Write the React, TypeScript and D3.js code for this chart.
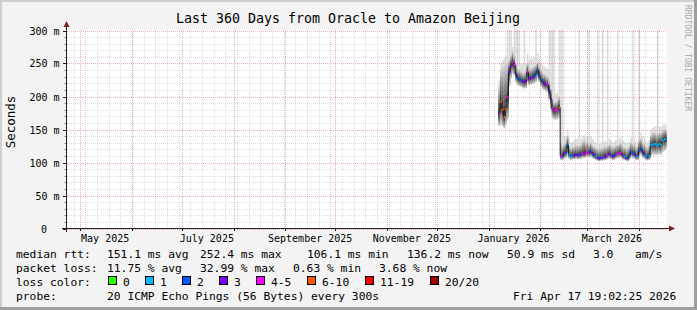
import React from 'react';
import * as d3 from 'd3';

const W = 697;
const H = 310;
const titleText = 'Last 360 Days from Oracle to Amazon Beijing';
const yAxisTitle = 'Seconds';
const watermarkText = 'RRDTOOL / TOBI OETIKER';
const startTime = new Date(Date.UTC(2025, 3, 22, 19, 2, 25));
const endTime = new Date(Date.UTC(2026, 3, 17, 19, 2, 25));
const yTickValues = [0, 50, 100, 150, 200, 250, 300];
const yTickLabels = ['0', '50 m', '100 m', '150 m', '200 m', '250 m', '300 m'];
const xLabelMonths = ['2025-05-01', '2025-07-01', '2025-09-01', '2025-11-01', '2026-01-01', '2026-03-01'];
const xLabelTexts = ['May 2025', 'July 2025', 'September 2025', 'November 2025', 'January 2026', 'March 2026'];

// daily data, first day 2026-01-07
const firstDay = '2026-01-07';
const median = [
  174, 192, 180, 169, 181, 199, 237, 245, 252, 248, 234, 228, 226, 225, 223, 222, 223, 237, 227, 228,
  229, 231, 234, 240, 232, 226, 222, 220, 218, 218, 209, 196, 182, 179, 179, 180, 183, 110, 109, 114,
  115, 126, 112, 109, 111, 110, 112, 111, 111, 112, 113, 113, 114, 116, 115, 117, 113, 111, 109, 107,
  106, 107, 107, 108, 109, 111, 113, 111, 109, 110, 112, 113, 114, 115, 111, 109, 107, 106, 110, 116,
  114, 113, 110, 109, 118, 121, 116, 113, 110, 108, 110, 126, 127, 128, 126, 126, 128, 127, 133, 135,
  136,
];
const lossCount = [
  5, 7, 6, 6, 6, 5, 3, 3, 4, 4, 3, 2, 2, 2, 3, 3, 3, 4, 3, 3,
  3, 2, 2, 2, 2, 2, 2, 3, 3, 4, 3, 3, 4, 4, 4, 4, 6, 4, 2, 3,
  2, 2, 1, 1, 2, 3, 3, 3, 2, 3, 4, 3, 4, 4, 3, 2, 3, 2, 1, 3,
  3, 2, 3, 2, 3, 4, 3, 2, 3, 3, 2, 4, 4, 4, 3, 1, 2, 3, 2, 2,
  2, 3, 2, 1, 2, 2, 3, 2, 1, 2, 1, 1, 1, 1, 1, 1, 1, 1, 1, 1,
  1,
];
const smokeLo = [
  155, 158, 155, 152, 158, 165, 215, 228, 235, 232, 222, 218, 216, 215, 213, 212, 213, 222, 217, 218,
  219, 220, 222, 228, 222, 216, 212, 210, 208, 206, 195, 180, 168, 165, 165, 166, 168, 104, 104, 106,
  107, 110, 106, 104, 105, 105, 106, 105, 105, 106, 107, 107, 108, 109, 108, 109, 107, 105, 104, 103,
  102, 103, 103, 104, 104, 105, 106, 105, 104, 104, 106, 107, 107, 108, 105, 104, 103, 102, 104, 108,
  107, 106, 104, 104, 110, 112, 108, 106, 104, 103, 104, 110, 112, 112, 112, 112, 113, 112, 116, 118,
  120,
];
const smokeHi = [
  215, 240, 244, 245, 248, 250, 255, 262, 268, 262, 250, 242, 240, 238, 236, 236, 238, 250, 242, 242,
  244, 246, 248, 252, 246, 240, 236, 234, 232, 230, 224, 212, 196, 192, 192, 194, 200, 130, 124, 128,
  130, 140, 125, 122, 124, 124, 126, 125, 126, 127, 132, 134, 130, 132, 128, 130, 126, 124, 122, 121,
  120, 121, 122, 124, 124, 125, 127, 126, 123, 124, 126, 127, 128, 129, 125, 123, 122, 121, 124, 130,
  128, 127, 124, 124, 134, 136, 130, 128, 124, 122, 126, 142, 144, 146, 144, 143, 146, 145, 148, 150,
  150,
];
const pingMax = [
  225, 250, 255, 258, 262, 400, 400, 400, 275, 400, 400, 400, 400, 250, 250, 400, 250, 265, 255, 258,
  258, 260, 400, 265, 258, 252, 248, 246, 244, 242, 400, 400, 400, 400, 205, 206, 400, 400, 400, 140,
  140, 150, 135, 130, 132, 134, 136, 136, 400, 136, 140, 142, 138, 140, 400, 140, 135, 132, 130, 400,
  128, 130, 400, 132, 132, 400, 136, 134, 130, 132, 134, 400, 136, 138, 134, 132, 130, 130, 132, 138,
  400, 136, 132, 130, 400, 145, 140, 138, 132, 130, 134, 150, 152, 155, 155, 400, 155, 154, 156, 158,
  158,
];
const lossBins = [0, 1, 2, 3, 5, 10, 19, 20];
const lossLabels = ['0', '1', '2', '3', '4-5', '6-10', '11-19', '20/20'];
const lossColors = ['#26ff00', '#00b8ff', '#0059ff', '#7e00ff', '#ff00ff', '#ff5500', '#ff0000', '#a10000'];
const smokeShades = [221, 202, 183, 164, 145, 126, 107, 88, 69, 50];

const legendRtt = [
  ['median rtt:', 16], ['151.1 ms avg', 107], ['252.4 ms max', 200], ['106.1 ms min', 307],
  ['136.2 ms now', 407], ['50.9 ms sd', 507], ['3.0', 593], ['am/s', 635],
];
const legendLoss = [
  ['packet loss:', 16], ['11.75 % avg', 107], ['32.99 % max', 200], ['0.63 % min', 293], ['3.68 % now', 379],
];
const legendSwatchX = [108, 145, 182, 219, 256, 307, 365, 430];
const probeText = '20 ICMP Echo Pings (56 Bytes) every 300s';
const dateText = 'Fri Apr 17 19:02:25 2026';

const MONO = "'DejaVu Sans Mono', monospace";

function lossColor(l: number) {
  for (let i = 0; i < lossBins.length; i++) if (l <= lossBins[i]) return lossColors[i];
  return lossColors[lossColors.length - 1];
}

export default function App() {
  const x = d3.scaleUtc().domain([startTime, endTime]).range([66.5, 666.5]);
  const y = d3.scaleLinear().domain([0, 300]).range([228.5, 30.5]);
  const day0 = new Date(firstDay + 'T00:00:00Z').getTime();
  const dx0 = (i: number) => x(new Date(day0 + i * 864e5));
  const dx1 = (i: number) => Math.min(x(new Date(day0 + (i + 1) * 864e5)), 666.5);
  const yc = (v: number) => Math.max(30, y(v));

  const smokeRects: any[] = [];
  median.forEach((m, i) => {
    const a = dx0(i), b = dx1(i);
    smokeRects.push(<rect key={'o' + i} x={a} y={yc(pingMax[i])} width={b - a} height={y(smokeLo[i]) - yc(pingMax[i])} fill="#dddddd" />);
    for (let k = 1; k < smokeShades.length; k++) {
      const f = (smokeShades.length - k) / (smokeShades.length - 1);
      const lo = m - (m - smokeLo[i]) * f;
      const hi = m + (smokeHi[i] - m) * f;
      const g = smokeShades[k];
      smokeRects.push(<rect key={'s' + i + '_' + k} x={a} y={yc(hi)} width={b - a} height={y(lo) - yc(hi)} fill={`rgb(${g},${g},${g})`} />);
    }
  });

  const linePts: [number, number][] = [];
  median.forEach((m, i) => { linePts.push([dx0(i), y(m)]); });
  linePts.push([dx1(median.length - 1), y(median[median.length - 1])]);
  const medPath = d3.line().curve(d3.curveStepAfter)(linePts) || '';

  const weeks = d3.utcSunday.range(startTime, endTime);
  const months = d3.utcMonth.range(startTime, endTime);
  const minorY = d3.range(0, 301, 10).filter((v) => v % 50 !== 0);
  const minorStroke = 'rgba(150,150,150,0.32)';
  const majorStroke = 'rgba(225,80,80,0.45)';

  return (
    <svg width={W} height={H} style={{ position: 'absolute', left: 0, top: 0 }} fontFamily={MONO}>
      <rect x={0} y={0} width={W} height={H} fill="#f3f3f3" />
      <path d={`M0,0 H${W} V2 H2 V${H} H0 Z`} fill="#cfcfcf" />
      <path d={`M${W},0 V${H} H0 V${H - 3} H${W - 3} V0 Z`} fill="#9e9e9e" />
      <rect x={67} y={30} width={600} height={199} fill="#ffffff" />
      {smokeRects}
      {minorY.map((v) => (
        <line key={'hy' + v} x1={67} x2={667} y1={Math.round(y(v)) + 0.5} y2={Math.round(y(v)) + 0.5} stroke={minorStroke} strokeDasharray="1,1" />
      ))}
      {weeks.map((t, i) => (
        <line key={'wx' + i} x1={Math.round(x(t)) + 0.5} x2={Math.round(x(t)) + 0.5} y1={30} y2={229} stroke={minorStroke} strokeDasharray="1,1" />
      ))}
      {yTickValues.map((v) => (
        <line key={'my' + v} x1={67} x2={667} y1={Math.round(y(v)) + 0.5} y2={Math.round(y(v)) + 0.5} stroke={majorStroke} strokeDasharray="1,1" />
      ))}
      {months.map((t, i) => (
        <line key={'mx' + i} x1={Math.round(x(t)) + 0.5} x2={Math.round(x(t)) + 0.5} y1={30} y2={229} stroke={majorStroke} strokeDasharray="1,1" />
      ))}
      <path d={medPath} fill="none" stroke="#202020" strokeWidth={1} />
      {median.map((m, i) => (
        <rect key={'l' + i} x={dx0(i)} y={y(m) - 1} width={dx1(i) - dx0(i)} height={2} fill={lossColor(lossCount[i])} />
      ))}
      <line x1={66.5} x2={66.5} y1={25} y2={232} stroke="#1f1f1f" />
      <line x1={62} x2={670} y1={228.5} y2={228.5} stroke="#1f1f1f" />
      <path d="M66.5,21 L63.5,27 L69.5,27 Z" fill="#7f1f1f" />
      <path d="M675,228.5 L669,225.5 L669,231.5 Z" fill="#7f1f1f" />
      {yTickValues.map((v) => (
        <line key={'ty' + v} x1={63} x2={66} y1={Math.round(y(v)) + 0.5} y2={Math.round(y(v)) + 0.5} stroke="#1f1f1f" />
      ))}
      {minorY.map((v) => (
        <line key={'tmy' + v} x1={64.5} x2={66} y1={Math.round(y(v)) + 0.5} y2={Math.round(y(v)) + 0.5} stroke="#8c8c8c" />
      ))}
      {months.map((t, i) => (
        <line key={'tx' + i} x1={Math.round(x(t)) + 0.5} x2={Math.round(x(t)) + 0.5} y1={228} y2={231} stroke="#1f1f1f" />
      ))}
      <text x={348} y={23} textAnchor="middle" fontSize={13.3} fill="#000">{titleText}</text>
      {yTickValues.map((v, i) => (
        <text key={'yl' + v} x={v === 0 ? 47 : 59.5} y={Math.round(y(v)) + 4} textAnchor="end" fontSize={10} fill="#000">{yTickLabels[i]}</text>
      ))}
      {xLabelMonths.map((m, i) => (
        <text key={'xl' + i} x={x(new Date(new Date(m + 'T00:00:00Z').getTime() + 15 * 864e5))} y={241.5} textAnchor="middle" fontSize={10} fill="#000">{xLabelTexts[i]}</text>
      ))}
      <text transform="translate(15,122) rotate(-90)" textAnchor="middle" fontSize={12.5} fill="#000">{yAxisTitle}</text>
      <text transform="translate(685,5) rotate(90)" fontSize={8} fill="#a8a8a8">{watermarkText}</text>
      {legendRtt.map(([t, xx], i) => (
        <text key={'r' + i} x={xx as number} y={258} fontSize={11.3} fill="#000">{t}</text>
      ))}
      {legendLoss.map(([t, xx], i) => (
        <text key={'p' + i} x={xx as number} y={272} fontSize={11.3} fill="#000">{t}</text>
      ))}
      <text x={16} y={285.5} fontSize={11.3} fill="#000">loss color:</text>
      {lossLabels.map((lab, i) => (
        <g key={'lc' + i}>
          <rect x={legendSwatchX[i] + 0.5} y={276.5} width={8} height={8} fill={lossColors[i]} stroke="#000" />
          <text x={legendSwatchX[i] + 15} y={285.5} fontSize={11.3} fill="#000">{lab}</text>
        </g>
      ))}
      <text x={16} y={300} fontSize={11.3} fill="#000">probe:</text>
      <text x={107} y={300} fontSize={11.3} fill="#000">{probeText}</text>
      <text x={513} y={300} fontSize={11.3} fill="#000">{dateText}</text>
    </svg>
  );
}
